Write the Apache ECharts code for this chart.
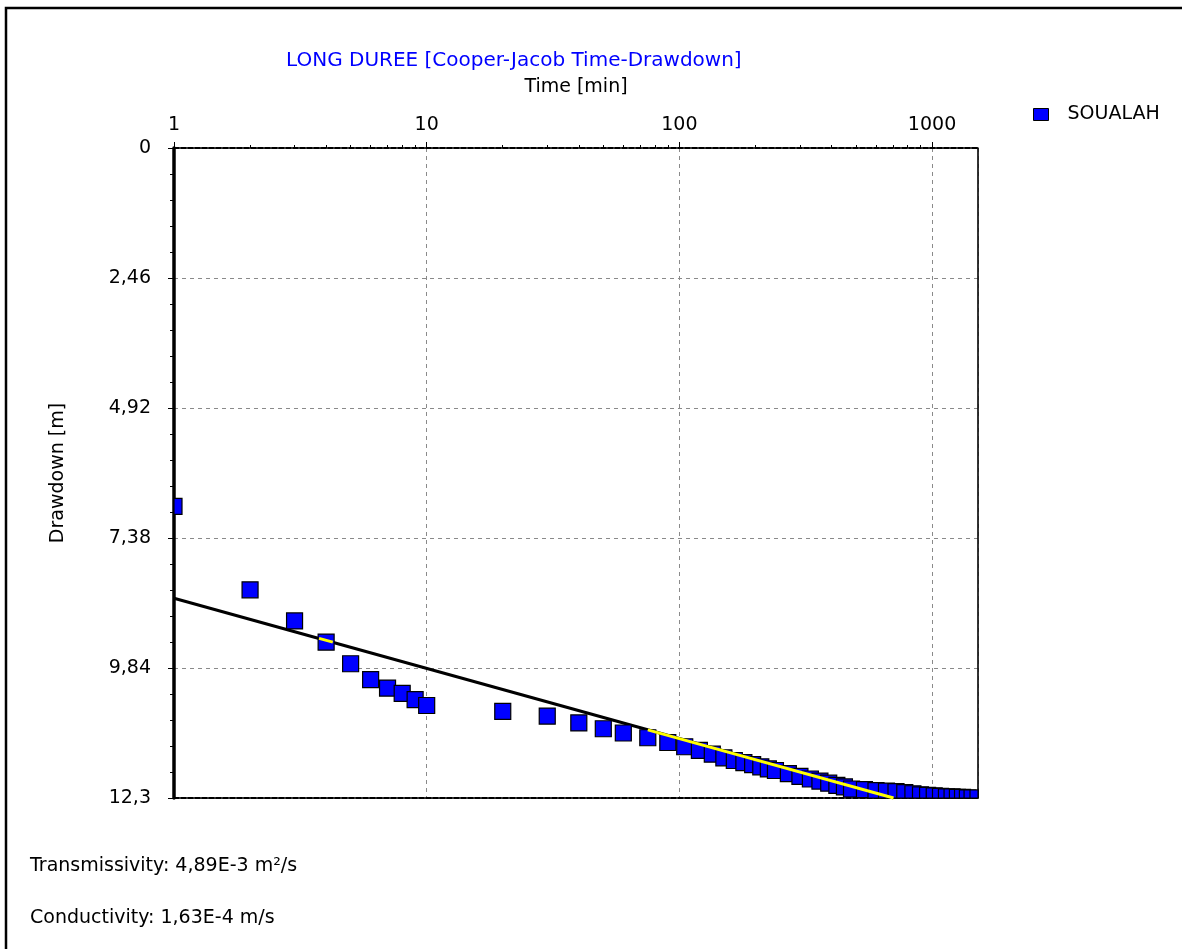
<!DOCTYPE html>
<html>
<head>
<meta charset="utf-8">
<script src="https://cdn.jsdelivr.net/npm/echarts@6/dist/echarts.min.js"></script>
<style>
html,body{margin:0;padding:0;background:#fff;}
#chart{width:1182px;height:949px;}
</style>
</head>
<body>
<div id="chart"></div>
<script>
// ---- data ----
var timeMin = [1,2,3,4,5,6,7,8,9,10,20,30,40,50,60,75,90,105,120,135,150,165,180,195,210,225,240,270,300,330,360,390,420,450,480,540,600,660,720,780,840,900,960,1020,1080,1140,1200,1260,1320,1380,1440,1520];
var drawdownM = [6.78,8.36,8.95,9.35,9.76,10.06,10.22,10.32,10.44,10.55,10.66,10.75,10.88,10.99,11.07,11.16,11.25,11.33,11.40,11.47,11.54,11.59,11.63,11.67,11.71,11.75,11.78,11.84,11.89,11.94,11.98,12.02,12.06,12.09,12.13,12.14,12.16,12.17,12.18,12.20,12.22,12.24,12.25,12.26,12.27,12.28,12.28,12.29,12.29,12.30,12.30,12.30];
var fitLineT = [1, 704];
var fitLineS = [8.52, 12.3];
var highlightT = [75, 704];
var highlightS = [11.01, 12.3];
var highlightSmallT = [3.75, 4.25];
var highlightSmallS = [9.28, 9.35];
var xMinorTicks = [2,3,4,5,6,7,8,9,20,30,40,50,60,70,80,90,200,300,400,500,600,700,800,900];
var seriesName = 'SOUALAH';
var chartTitle = 'LONG DUREE [Cooper-Jacob Time-Drawdown]';
var infoLines = ['Transmissivity: 4,89E-3 m\u00B2/s', 'Conductivity: 1,63E-4 m/s'];

var FONT = 'DejaVu Sans';
var FS = 19;
function pairs(a, b){ return a.map(function(v,i){ return [v, b[i]]; }); }

var chart = echarts.init(document.getElementById('chart'));
var option = {
  animation: false,
  backgroundColor: '#fff',
  title: {
    text: chartTitle,
    left: 281, top: 46,
    textStyle: {color: '#0000ff', fontWeight: 'normal', fontSize: 20, fontFamily: FONT}
  },
  legend: {
    left: 1028, top: 100,
    selectedMode: false,
    itemWidth: 15, itemHeight: 12,
    data: [{name: seriesName, icon: 'rect', itemStyle: {color: '#0000ff', borderColor: '#000', borderWidth: 1}}],
    textStyle: {fontSize: FS, fontFamily: FONT, color: '#000', padding: [0,0,0,14]}
  },
  grid: {left: 174, top: 148, width: 804, height: 650, show: true, borderColor: '#9a9a9a', borderWidth: 1, containLabel: false},
  xAxis: [{
    type: 'log', logBase: 10, min: 1, max: 1520, position: 'top',
    name: 'Time [min]', nameLocation: 'middle', nameGap: 51,
    nameTextStyle: {fontSize: FS, fontFamily: FONT, color: '#000'},
    axisLine: {show: true, lineStyle: {color: '#000', width: 2, type: [5,2]}},
    axisTick: {show: true, length: 6, lineStyle: {color: '#000'}},
    axisLabel: {show: true, margin: 13, fontSize: FS, fontFamily: FONT, color: '#000',
      formatter: function(v){ return String(Math.round(v)); }},
    splitLine: {show: true, lineStyle: {color: '#8a8a8a', type: [4,4], width: 1}},
    minorTick: {show: false}
  }, {
    type: 'log', logBase: 10, min: 1, max: 1520, position: 'top',
    axisLine: {show: false},
    axisLabel: {show: false},
    splitLine: {show: false},
    axisTick: {show: true, length: 3, customValues: xMinorTicks, lineStyle: {color: '#000'}}
  }, {
    type: 'log', logBase: 10, min: 1, max: 1520, position: 'bottom',
    axisLine: {show: true, lineStyle: {color: '#000', width: 2, type: [5,2]}},
    axisLabel: {show: false}, axisTick: {show: false}, splitLine: {show: false}
  }],
  yAxis: [{
    type: 'value', inverse: true, min: 0, max: 12.3, interval: 2.46,
    name: 'Drawdown [m]', nameLocation: 'middle', nameGap: 106, nameRotate: 90,
    nameTextStyle: {fontSize: FS, fontFamily: FONT, color: '#000'},
    axisLine: {show: true, lineStyle: {color: '#000', width: 3.5}},
    axisTick: {show: true, length: 6, lineStyle: {color: '#000'}},
    minorTick: {show: true, splitNumber: 5, length: 4, lineStyle: {color: '#000'}},
    axisLabel: {margin: 23, fontSize: FS, fontFamily: FONT, color: '#000',
      formatter: function(v){ return String(parseFloat(v.toFixed(2))).replace('.', ','); }},
    splitLine: {show: true, lineStyle: {color: '#8a8a8a', type: [4,4], width: 1}}
  }, {
    type: 'value', inverse: true, min: 0, max: 12.3, position: 'right',
    axisLine: {show: true, lineStyle: {color: '#000', width: 1.5}},
    axisTick: {show: false}, axisLabel: {show: false}, splitLine: {show: false}
  }],
  series: [{
    name: 'fit', type: 'line', z: 2, symbol: 'none', clip: true,
    data: pairs(fitLineT, fitLineS),
    lineStyle: {color: '#000', width: 3}
  }, {
    name: seriesName, type: 'custom', z: 3,
    itemStyle: {color: '#0000ff', borderColor: '#000', borderWidth: 1},
    encode: {x: 0, y: 1},
    data: pairs(timeMin, drawdownM),
    renderItem: function(params, api){
      var p = api.coord([api.value(0), api.value(1)]);
      var cs = params.coordSys;
      var r = echarts.graphic.clipRectByRect(
        {x: p[0] - 8, y: p[1] - 8, width: 16, height: 16},
        {x: cs.x, y: cs.y, width: cs.width, height: cs.height});
      if (!r) return null;
      return {type: 'rect', shape: r, style: {fill: '#0000ff', stroke: '#000', lineWidth: 1.2}};
    }
  }, {
    name: 'hl1', type: 'line', z: 4, symbol: 'none', clip: true,
    data: pairs(highlightT, highlightS),
    lineStyle: {color: '#ffff00', width: 3}
  }, {
    name: 'hl2', type: 'line', z: 4, symbol: 'none', clip: true,
    data: pairs(highlightSmallT, highlightSmallS),
    lineStyle: {color: '#ffff00', width: 3}
  }],
  graphic: [
    {type: 'rect', z: -1, silent: true, shape: {x: 6, y: 8, width: 1300, height: 1100}, style: {fill: 'none', stroke: '#000', lineWidth: 2.5}},
    {type: 'text', left: 30, top: 857, style: {text: infoLines[0], font: FS + 'px "' + FONT + '"', fill: '#000'}},
    {type: 'text', left: 30, top: 909, style: {text: infoLines[1], font: FS + 'px "' + FONT + '"', fill: '#000'}}
  ]
};
chart.setOption(option);
</script>
</body>
</html>
